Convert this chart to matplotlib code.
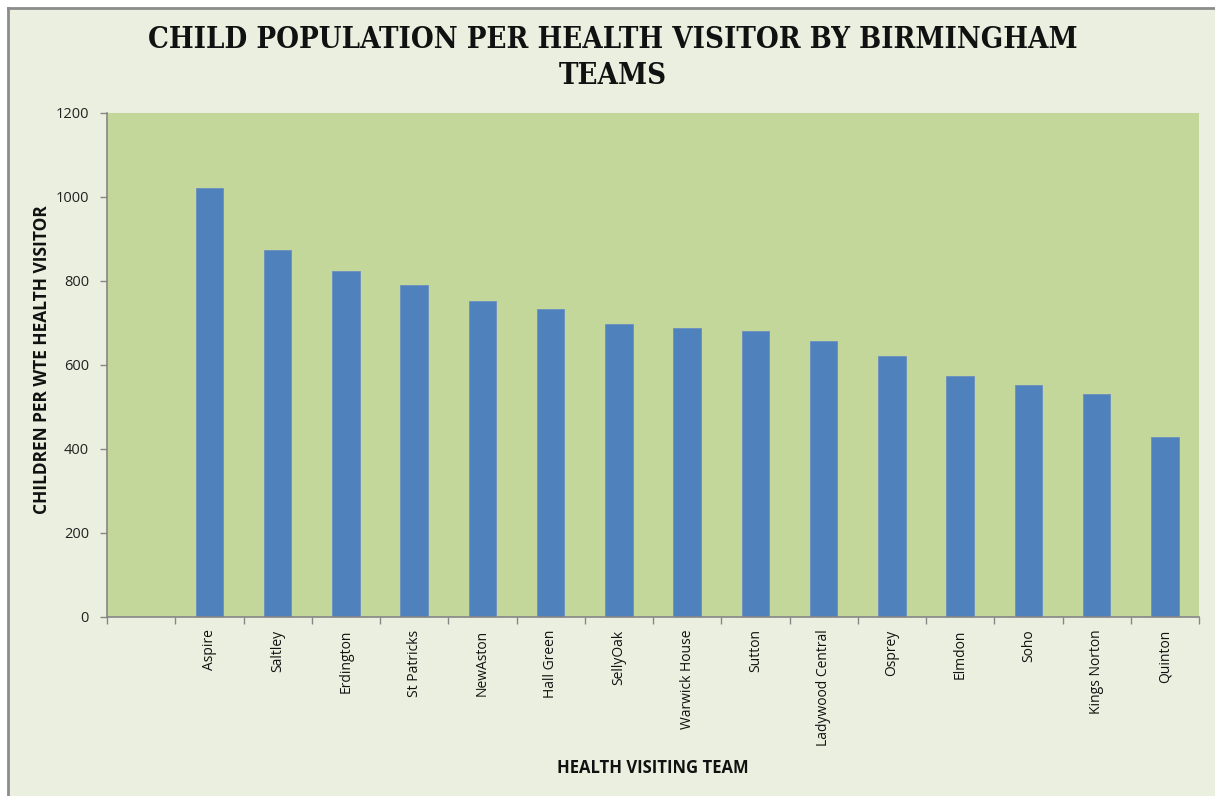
import matplotlib.pyplot as plt
from matplotlib.patches import Rectangle
from matplotlib.lines import Line2D

# Children per WTE health visitor, by team (first slot left blank on the axis)
teams = ["", "Aspire", "Saltley", "Erdington", "St Patricks", "NewAston", "Hall Green",
         "SellyOak", "Warwick House", "Sutton", "Ladywood Central", "Osprey",
         "Elmdon", "Soho", "Kings Norton", "Quinton"]
children_per_hv = [0, 1021, 874, 824, 790, 752, 733, 698, 688, 681, 657, 621,
                   574, 552, 531, 429]
y_ticks = [0, 200, 400, 600, 800, 1000, 1200]

bg = "#EBEFDF"
plot_bg = "#C4D79B"
bar_col = "#4F81BD"
axis_col = "#868686"

fig = plt.figure(figsize=(12.15, 7.96), dpi=100, facecolor="white")

# chart area background with grey border along top and left
W, H = 1215, 796
fig.patches.append(Rectangle((8 / W, 0), 1 - 8 / W, 1 - 8 / H, transform=fig.transFigure,
                             facecolor=bg, edgecolor="none", zorder=-10))
fig.lines.append(Line2D([7.5 / W, 7.5 / W], [0, 1 - 7.5 / H], transform=fig.transFigure,
                        color="#8C8C8C", lw=2))
fig.lines.append(Line2D([7.5 / W, 1], [1 - 7.5 / H, 1 - 7.5 / H], transform=fig.transFigure,
                        color="#8C8C8C", lw=2))

ax = fig.add_axes([107 / W, (796 - 617) / H, (1199 - 107) / W, (617 - 113) / H])
ax.set_facecolor(plot_bg)

x = list(range(len(teams)))
ax.bar(x, children_per_hv, width=0.4, color=bar_col, edgecolor="#6A8FC0", linewidth=0.6)

ax.set_xlim(-0.5, len(teams) - 0.5)
ax.set_ylim(0, 1200)
ax.set_yticks(y_ticks)
ax.set_yticklabels([str(v) for v in y_ticks], fontfamily="Open Sans", fontsize=10.5,
                   color="#222222")

# category labels between boundary ticks, like a category axis
ax.set_xticks(x)
ax.set_xticklabels(teams, rotation=90, fontfamily="Open Sans", fontsize=10,
                   color="#111111", va="top")
ax.tick_params(axis="x", length=0, pad=9)
ax.set_xticks([i - 0.5 for i in range(len(teams) + 1)], minor=True)
ax.tick_params(axis="x", which="minor", length=5, color=axis_col, width=1)
ax.tick_params(axis="y", length=5, color=axis_col, width=1, pad=8)

for side in ["top", "right"]:
    ax.spines[side].set_visible(False)
for side in ["left", "bottom"]:
    ax.spines[side].set_color(axis_col)
    ax.spines[side].set_linewidth(1.2)

title_kw = dict(ha="center", va="center", fontfamily="DejaVu Serif", fontstretch="condensed",
                fontweight="bold", fontsize=21, color="#111111")
fig.text(613 / W, 1 - 39 / H, "CHILD POPULATION PER HEALTH VISITOR BY BIRMINGHAM", **title_kw)
fig.text(613 / W, 1 - 75 / H, "TEAMS", **title_kw)

fig.text(42 / W, 1 - 360 / H, "CHILDREN PER WTE HEALTH VISITOR", rotation=90,
         ha="center", va="center", fontfamily="Open Sans", fontweight="bold",
         fontsize=12.5, color="#111111")
fig.text(653 / W, 1 - 768 / H, "HEALTH VISITING TEAM", ha="center", va="center",
         fontfamily="Open Sans", fontweight="bold", fontsize=12, color="#111111")

fig.savefig("out.png", dpi=100, facecolor=fig.get_facecolor())
